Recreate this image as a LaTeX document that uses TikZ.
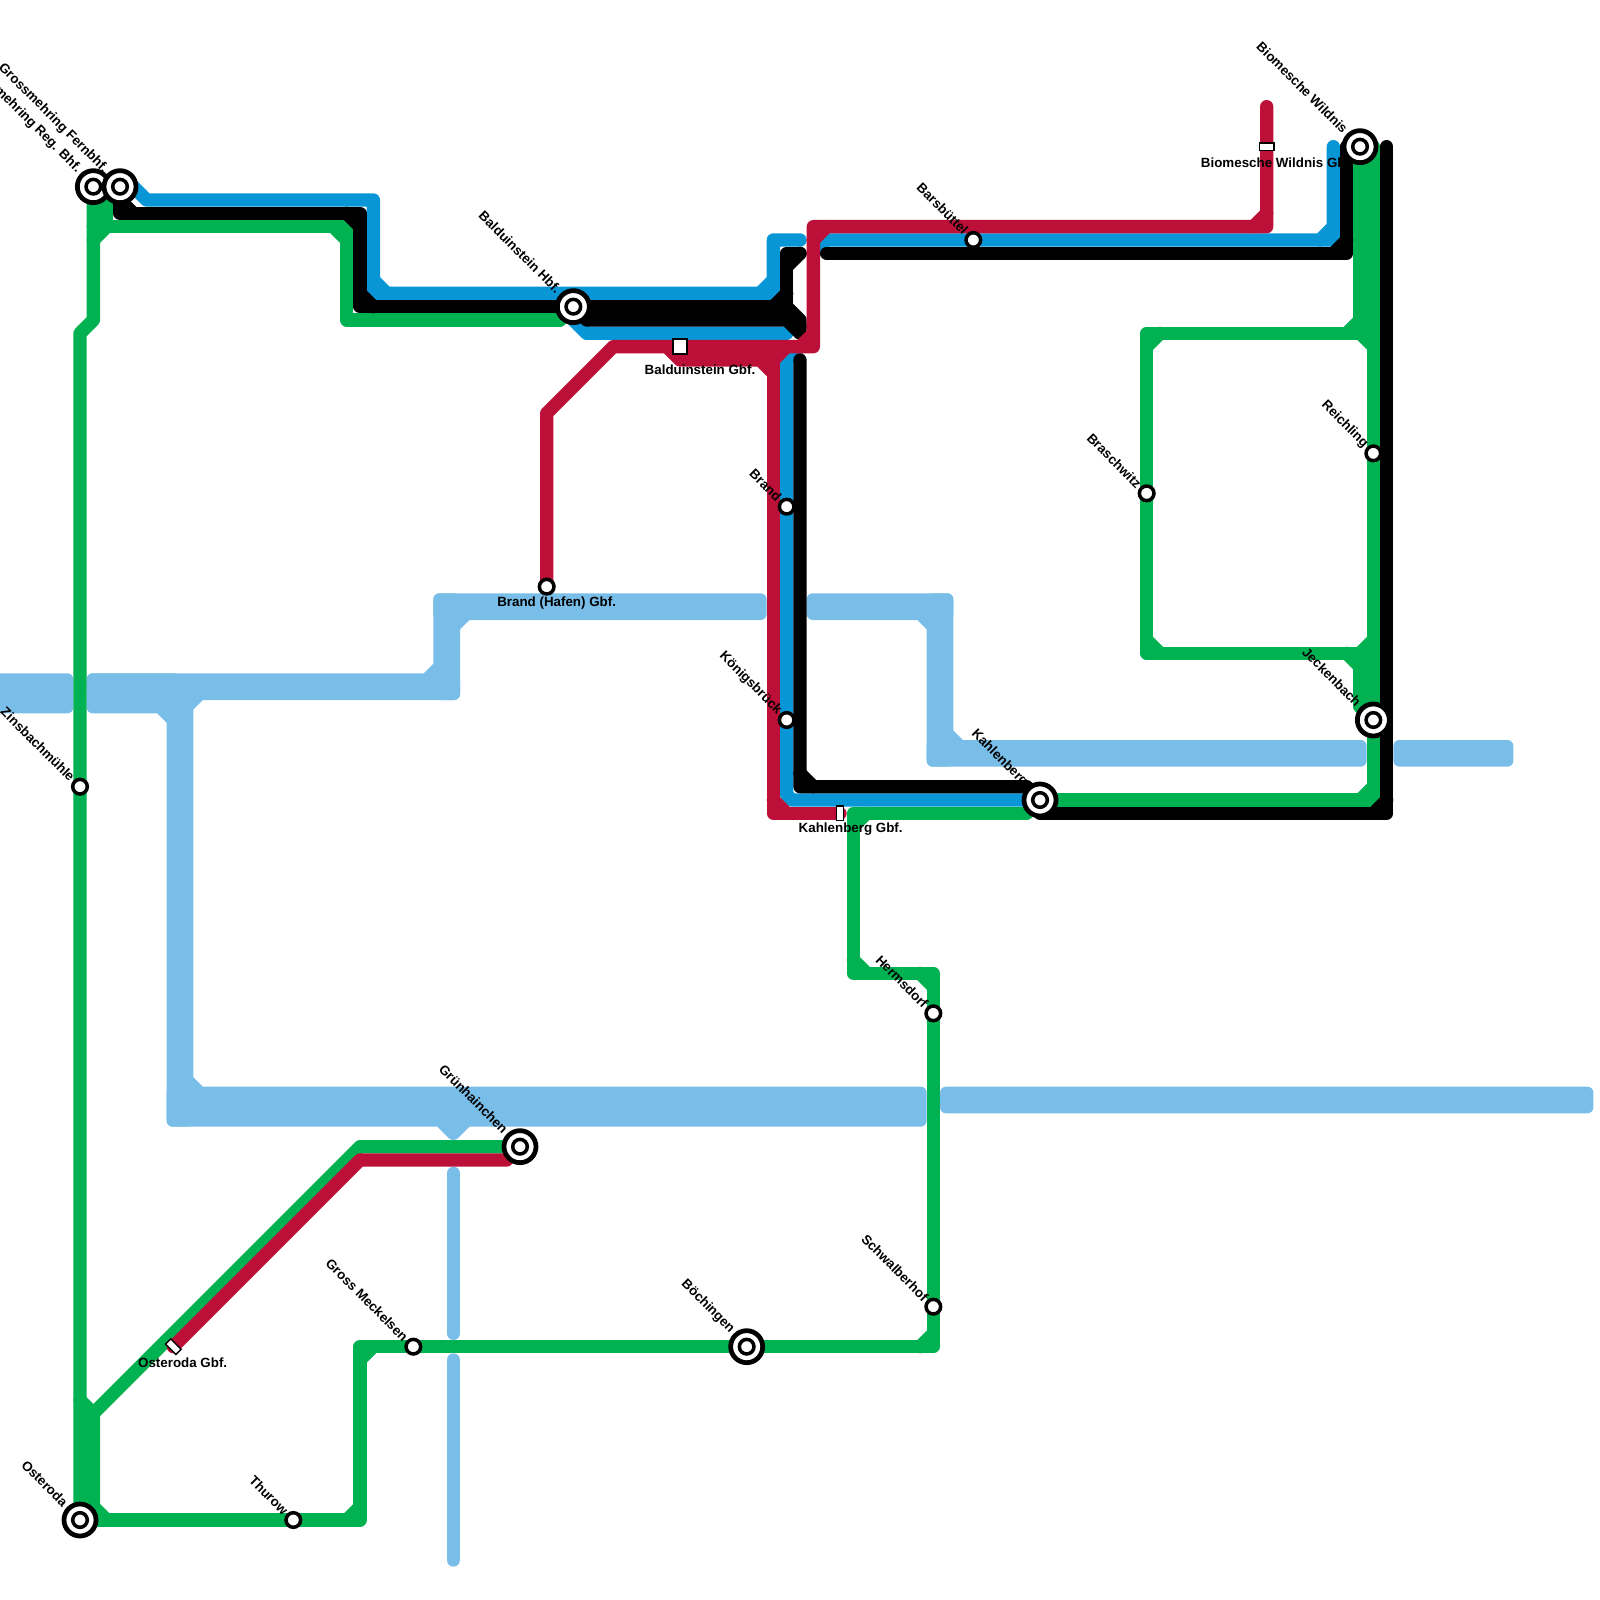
\documentclass[tikz,border=0pt]{standalone}
\usepackage{fontspec}
\setmainfont{Liberation Sans}
\usetikzlibrary{calc}
\definecolor{lineriver}{HTML}{79BDE9}
\definecolor{linegreen}{HTML}{00B251}
\definecolor{lineblue}{HTML}{0896D7}
\definecolor{linered}{HTML}{BD1038}
\tikzset{
  railline/.style={line width=1.3333mm,line cap=round,line join=round},
  riv/.style={railline,lineriver},
  rivband/.style={lineriver,rounded corners=0.6mm},
  grn/.style={railline,linegreen},
  blu/.style={railline,lineblue},
  blk/.style={railline,black},
  rd/.style={railline,linered},
  stop/.style={circle,draw=black,fill=white,line width=1pt,minimum size=1.46mm,inner sep=0pt},
  hub/.style={circle,draw=black,fill=white,line width=1.35pt,minimum size=3.2mm,inner sep=0pt},
  freight/.style={rectangle,draw=black,fill=white,line width=0.4pt,minimum width=1.47mm,minimum height=0.73mm,inner sep=0pt},
  depot/.style={rectangle,draw=black,fill=white,line width=0.6pt,minimum size=1.46mm,inner sep=0pt},
  lab/.style={font=\fontsize{3.8}{4}\selectfont\bfseries,inner sep=0pt},
  difflab/.style={lab,anchor=east,rotate=-45},
}

\begin{document}
\begin{tikzpicture}[x=1.33333mm,y=-1.33333mm]
\useasboundingbox (0,0) rectangle (120,120);
\fill[white] (0,0) rectangle (120,120);
\coordinate (grossreg) at (7,14); \coordinate (grossfern) at (9,14);
\coordinate (balhbf) at (43,23); \coordinate (biowild) at (102,11);
\coordinate (jeckenbach) at (103,54); \coordinate (kahlenberg) at (78,60);
\coordinate (grunh) at (39,86); \coordinate (boeching) at (56,101);
\coordinate (osteroda) at (6,114); \coordinate (brandhafen) at (41,44);
\coordinate (ostgbf) at (13,101); \coordinate (balgbf) at (51,26);
\coordinate (kahlgbf) at (63,61); \coordinate (biogbf) at (95,11);
% river
\foreach \xa/\ya/\xb/\yb in {-1/50.5/5.5/53.5,6.5/50.5/34.5/52.5,6.5/50.5/13.5/53.5,12.5/52/14.5/84.5,12.5/81.5/69.5/84.5,70.5/81.5/119.5/83.5,32.5/44.5/34.5/52.5,32.5/44.5/57.5/46.5,60.5/44.5/71.5/46.5,69.5/44.5/71.5/57.5,69.5/55.5/102.5/57.5,104.5/55.5/113.5/57.5}
  {\fill[rivband] (\xa,\ya) rectangle (\xb,\yb);}
\draw[riv] (12,53) -- (13,54);
\draw[riv] (32,51) -- (33,50);
\draw[riv] (14,53) -- (15,52);
\draw[riv] (14,81) -- (15,82);
\draw[riv] (33,84) -- (34,85) -- (35,84);
\draw[riv] (34,47) -- (35,46);
\draw[riv] (69,46) -- (70,47);
\draw[riv] (71,55) -- (72,56);
\draw[riv] (34,88) -- (34,100);
\draw[riv] (34,102) -- (34,117);
% green
\draw[grn] (osteroda) -- (6,25) -- (7,24) -- (grossreg);
\draw[grn] (6,105) -- (7,106) -- (7,114);
\draw[grn] (6.5,106) -- (6.5,114);
\draw[grn] (7,106) -- (27,86) -- (grunh);
\draw[grn] (7,113) -- (8,114);
\draw[grn] (osteroda) -- (27,114) -- (27,101) -- (70,101) -- (70,73) -- (64,73) -- (64,61) -- (77,61);
\draw[grn] (26,114) -- (27,113);
\draw[grn] (27,102) -- (28,101);
\draw[grn] (69,101) -- (70,100);
\draw[grn] (69,73) -- (70,74);
\draw[grn] (64,72) -- (65,73);
\draw[grn] (64,62) -- (65,61);
\draw[grn] (kahlenberg) -- (103,60) -- (103,11);
\draw[grn] (102,60) -- (103,59);
\draw[grn] (biowild) -- (102,25) -- (86,25) -- (86,49) -- (102,49) -- (102,53);
\draw[grn] (102.5,11) -- (102.5,25);
\draw[grn] (102.5,49) -- (102.5,53);
\draw[grn] (101,25) -- (102,24);
\draw[grn] (102,25) -- (103,26);
\draw[grn] (86,26) -- (87,25);
\draw[grn] (86,48) -- (87,49);
\draw[grn] (102,49) -- (103,48);
\draw[grn] (101,49) -- (102,50);
\draw[grn] (7,17) -- (26,17) -- (26,24) -- (42,24);
\draw[grn] (8,15) -- (8,17);
\draw[grn] (7.5,15) -- (7.5,17);
\draw[grn] (7,18) -- (8,17);
\draw[grn] (25,17) -- (26,18);
% blue
\draw[blu] (grossfern) -- (10,14) -- (11,15) -- (28,15) -- (28,22) -- (58,22) -- (58,18) -- (60,18);
\draw[blu] (28,21) -- (29,22);
\draw[blu] (57,22) -- (58,21);
\draw[blu] (balhbf) -- (43,24) -- (44,25) -- (59,25);
\draw[blu] (60,26) -- (59,27) -- (59,59.6) -- (59.4,60) -- (kahlenberg);
\draw[blu] (61,19) -- (62,18) -- (100,18) -- (100,11);
\draw[blu] (99,18) -- (100,17);
% black
\draw[blk] (grossfern) -- (9,16) -- (27,16) -- (27,23) -- (59,23) -- (59,19) -- (60,19);
\draw[blk] (9,15) -- (10,16);
\draw[blk] (26,16) -- (27,17);
\draw[blk] (27,22) -- (28,23);
\draw[blk] (58,23) -- (59,22);
\draw[blk] (59,20) -- (60,19);
\draw[blk] (59,23) -- (60,24) -- (60,25) -- (59,24) -- (44,24);
\draw[blk] (44,23.5) -- (59,23.5);
\draw[blk] (59.5,24) -- (60,24.5);
\draw[blk] (60,27) -- (60,59) -- (77,59) -- (kahlenberg);
\draw[blk] (60,58) -- (61,59);
\draw[blk] (62,19) -- (101,19) -- (biowild -| 101,0);
\draw[blk] (100,19) -- (101,18);
\draw[blk] (78,61) -- (104,61) -- (104,11);
\draw[blk] (103,61) -- (104,60);
% red
\draw[rd] (brandhafen) -- (41,31) -- (46,26) -- (61,26) -- (61,17) -- (95,17) -- (95,8);
\draw[rd] (60,26) -- (61,25);
\draw[rd] (61,18) -- (62,17);
\draw[rd] (94,17) -- (95,16);
\draw[rd] (50,26) -- (51,27) -- (57,27) -- (58,28);
\draw[rd] (51,26.5) -- (58,26.5);
\draw[rd] (58,27) -- (59,26);
\draw[rd] (58,27) -- (58,61) -- (kahlgbf);
\draw[rd] (58,60) -- (59,61);
\draw[rd] (ostgbf) -- (27,87) -- (38,87);
% stations
\foreach \p/\lab in {grossreg/Grossmehring Reg. Bhf.,grossfern/Grossmehring Fernbhf.,balhbf/Balduinstein Hbf.,biowild/Biomesche Wildnis,jeckenbach/Jeckenbach,kahlenberg/Kahlenberg,grunh/Grünhainchen,boeching/Böchingen,osteroda/Osteroda}
  {\node[hub] (\p) at (\p) {};
   \node[stop] (\p-c) at (\p) {};
   \node[difflab] (\p-l) at ($(\p)+(-1.05,-1.15)$) {\lab};}
\foreach \p/\lab/\xx/\yy in {zinsbach/Zinsbachmühle/6/59,brand/Brand/59/38,koenigs/Königsbrück/59/54,barsb/Barsbüttel/73/18,braschwitz/Braschwitz/86/37,reichling/Reichling/103/34,hermsdorf/Hermsdorf/70/76,schwalberhof/Schwalberhof/70/98,meckelsen/Gross Meckelsen/31/101,thurow/Thurow/22/114}
  {\node[stop] (\p) at (\xx,\yy) {};
   \node[difflab] (\p-l) at ($(\p)+(-0.52,-0.55)$) {\lab};}
\node[stop] (hafen) at (brandhafen) {};
\node[lab] (hafen-l) at (41.75,45.2) {Brand (Hafen) Gbf.};
\node[depot] (balsq) at (balgbf) {};
\node[lab] (balsq-l) at (52.5,27.7) {Balduinstein Gbf.};
\node[freight,rotate=90] (kahlsq) at (kahlgbf) {};
\node[lab] (kahlsq-l) at (63.8,62.2) {Kahlenberg Gbf.};
\node[freight] (biosq) at (biogbf) {};
\node[lab] (biosq-l) at (95.8,12.2) {Biomesche Wildnis Gbf.};
\node[freight,rotate=-45] (ostsq) at (ostgbf) {};
\node[lab] (ostsq-l) at (13.7,102.2) {Osteroda Gbf.};
\end{tikzpicture}
\end{document}
